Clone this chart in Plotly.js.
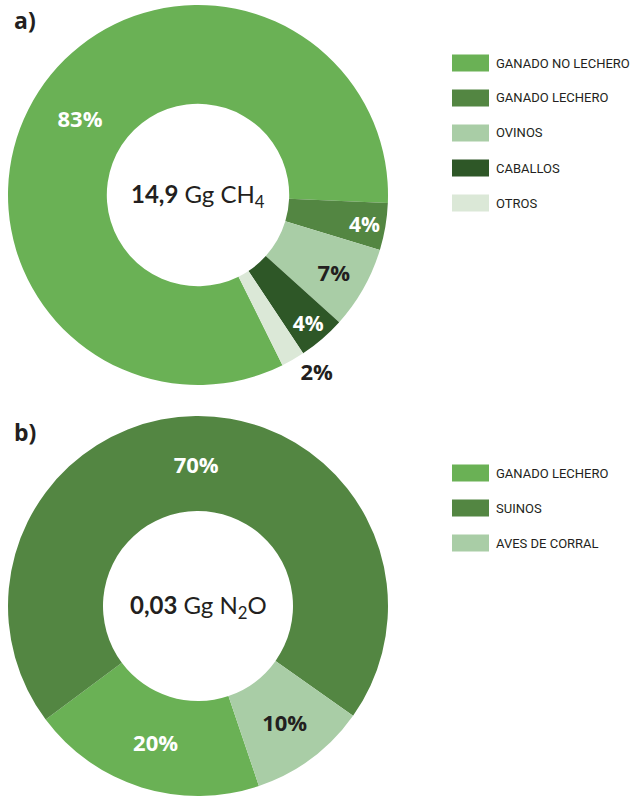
<!DOCTYPE html>
<html>
<head>
<meta charset="utf-8">
<script src="https://cdn.plot.ly/plotly-3.0.1.min.js"></script>
<style>html,body{margin:0;padding:0;background:#fff;}#chart{width:635px;height:798px;}</style>
</head>
<body>
<div id="chart"></div>
<script>
// Panel a) CH4
const labelsA = ['GANADO NO LECHERO', 'GANADO LECHERO', 'OVINOS', 'CABALLOS', 'OTROS'];
const valuesA = [83, 4, 7, 4, 2];
const colorsA = ['#6ab155', '#538642', '#a9cda6', '#2e5727', '#dbe8d7'];
const textColorsA = ['#ffffff', '#ffffff', '#231f20', '#ffffff', '#231f20'];
const totalA = '<b>14,9</b> Gg CH<sub>4</sub>';

// Panel b) N2O
const labelsB = ['GANADO LECHERO', 'SUINOS', 'AVES DE CORRAL'];
const valuesB = [20, 70, 10];
const colorsB = ['#6ab155', '#538642', '#a9cda6'];
const textColorsB = ['#ffffff', '#ffffff', '#231f20'];
const totalB = '<b>0,03</b> Gg N<sub>2</sub>O';

const pctFont = 'Open Sans, sans-serif';
const legFont = 'Roboto, sans-serif';

const domA = {x: [8/635, 388/635], y: [1 - 387/798, 1 - 3/798]};
const domB = {x: [8/635, 388/635], y: [1 - 797/798, 1 - 415/798]};

const traces = [
  {
    type: 'pie', labels: labelsA, values: valuesA, sort: false, direction: 'clockwise',
    rotation: 153.6, hole: 0.48, domain: domA,
    marker: {colors: colorsA, line: {width: 0}},
    texttemplate: '%{value}%', textinfo: 'text',
    textposition: ['inside', 'inside', 'inside', 'inside', 'outside'],
    insidetextorientation: 'horizontal',
    textfont: {family: pctFont, size: 22, weight: 'bold', color: textColorsA},
    outsidetextfont: {family: pctFont, size: 22, weight: 'bold', color: '#231f20'},
    showlegend: false, hoverinfo: 'label+value'
  },
  {
    type: 'pie', labels: labelsB, values: valuesB, sort: false, direction: 'clockwise',
    rotation: 161.3, hole: 0.5, domain: domB,
    marker: {colors: colorsB, line: {width: 0}},
    texttemplate: '%{value}%', textinfo: 'text',
    textposition: 'inside',
    insidetextorientation: 'horizontal',
    textfont: {family: pctFont, size: 22, weight: 'bold', color: textColorsB},
    showlegend: false, hoverinfo: 'label+value'
  }
];

const shapes = [];
const annotations = [
  {text: '<b>a)</b>', x: 12/635, y: 1 - 20/798, xref: 'paper', yref: 'paper', xanchor: 'left', yanchor: 'middle', showarrow: false, font: {family: pctFont, size: 23, color: '#231f20'}},
  {text: '<b>b)</b>', x: 12/635, y: 1 - 432/798, xref: 'paper', yref: 'paper', xanchor: 'left', yanchor: 'middle', showarrow: false, font: {family: pctFont, size: 23, color: '#231f20'}},
  {text: totalA, x: (domA.x[0] + domA.x[1]) / 2, y: 1 - 195/798, xref: 'paper', yref: 'paper', xanchor: 'center', yanchor: 'middle', showarrow: false, font: {family: 'Lato, sans-serif', size: 24, color: '#231f20'}},
  {text: totalB, x: (domB.x[0] + domB.x[1]) / 2, y: 1 - 606/798, xref: 'paper', yref: 'paper', xanchor: 'center', yanchor: 'middle', showarrow: false, font: {family: 'Lato, sans-serif', size: 24, color: '#231f20'}}
];

function addLegend(labels, colors, y0px) {
  labels.forEach((lab, i) => {
    const yc = y0px + i * 35;
    shapes.push({type: 'rect', xref: 'paper', yref: 'paper', x0: 452/635, x1: 489/635,
      y0: 1 - (yc + 8.5)/798, y1: 1 - (yc - 8.5)/798, fillcolor: colors[i], line: {width: 0}});
    annotations.push({text: lab, x: 494/635, y: 1 - yc/798, xref: 'paper', yref: 'paper',
      xanchor: 'left', yanchor: 'middle', showarrow: false,
      font: {family: legFont, size: 13, color: '#231f20'}});
  });
}
addLegend(labelsA, colorsA, 63);
addLegend(labelsB, colorsB, 473);

const layout = {
  width: 635, height: 798,
  margin: {l: 0, r: 0, t: 0, b: 0},
  paper_bgcolor: '#ffffff', plot_bgcolor: '#ffffff',
  shapes: shapes, annotations: annotations,
  showlegend: false
};

Plotly.newPlot('chart', traces, layout, {displayModeBar: false, staticPlot: true});
</script>
</body>
</html>
